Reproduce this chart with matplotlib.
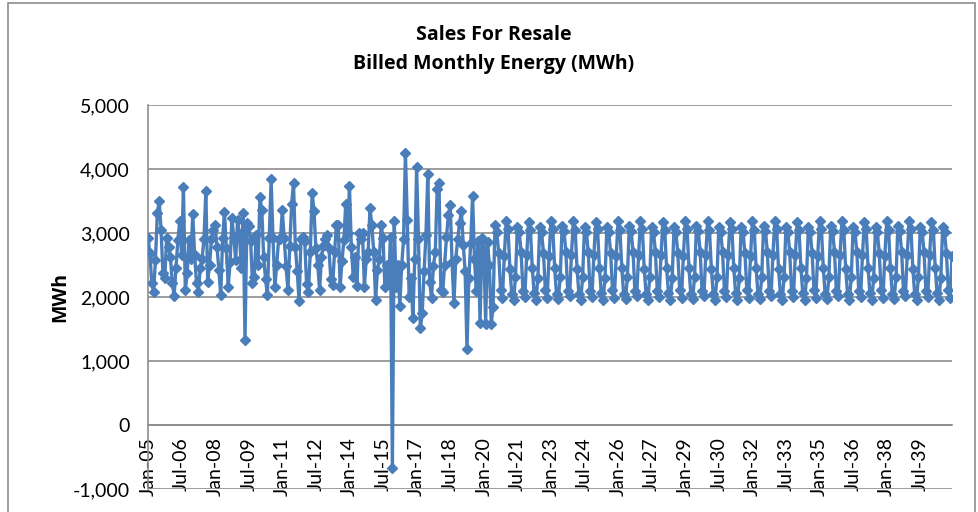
import numpy as np
import pandas as pd
import matplotlib
matplotlib.use("Agg")
import matplotlib.pyplot as plt
from matplotlib.patches import Rectangle

plt.rcParams['font.family'] = ['Lato', 'DejaVu Sans']

# billed monthly energy, MWh (actuals Jan-05 .. Jun-20)
hist_mwh = [
    2920, 2690, 2220, 2080, 2580, 3310, 3500, 3050, 2370, 2300, 2920, 2780,  # 2005
    2630, 2220, 2020, 2450, 2890, 3180, 2650, 3720, 2110, 2370, 2890, 2600,  # 2006
    3300, 2650, 2220, 2080, 2450, 2600, 2900, 3650, 2240, 2500, 2900, 3050,  # 2007
    3120, 2780, 2420, 2030, 2920, 3330, 2760, 2160, 2540, 3230, 2930, 2580,  # 2008
    3200, 2990, 2450, 3310, 1330, 3150, 3110, 2880, 2220, 2320, 2970, 2500,  # 2009
    3570, 3360, 2630, 2280, 2030, 2920, 3840, 2920, 2160, 2500, 2900, 2900,  # 2010
    3360, 2920, 2480, 2110, 2800, 3460, 3780, 2780, 2400, 1930, 2900, 2940,  # 2011
    2880, 2210, 2080, 2700, 3630, 3340, 2760, 2500, 2110, 2630, 2800, 2900,  # 2012
    2970, 2760, 2280, 2190, 2700, 3120, 3120, 2160, 2560, 2890, 3460, 3000,  # 2013
    3730, 2780, 2320, 2630, 2170, 3000, 2900, 3000, 2160, 2600, 2700, 3390,  # 2014
    3120, 2710, 1950, 2420, 2600, 3120, 2920, 2160, 2500, 2200, 2940, -670,  # 2015
    3180, 2160, 2500, 1860, 2500, 2900, 4255, 3200, 2000, 2300, 1670, 2600,  # 2016
    4025, 2900, 1510, 1745, 2400, 2970, 3920, 2240, 1980, 2480, 2700, 3680,  # 2017
    3780, 2110, 2080, 2500, 2930, 3280, 3440, 2540, 1900, 2600, 2900, 3150,  # 2018
    3340, 2820, 2400, 1190, 2300, 2850, 3580, 2600, 2100, 2870, 1600, 2920,  # 2019
    2740, 1580, 2860, 2500, 1580, 1850,                                      # 2020 H1
]

# forecast Jul-20 .. Dec-40
forecast_mwh = [
    3130, 3010, 2690, 2110, 1990, 2640,                                      # 2020 H2
    3180, 3060, 2440, 2050, 1960, 2310, 3100, 3020, 2700, 2100, 2000, 2650,  # 2021
    3170, 3040, 2460, 2060, 1950, 2300, 3090, 3010, 2690, 2110, 1990, 2640,  # 2022
    3190, 3070, 2450, 2040, 1970, 2320, 3110, 3030, 2710, 2090, 2010, 2660,  # 2023
    3180, 3050, 2440, 2050, 1960, 2310, 3100, 3020, 2700, 2100, 2000, 2650,  # 2024
    3170, 3060, 2460, 2060, 1950, 2300, 3090, 3010, 2690, 2110, 1990, 2640,  # 2025
    3190, 3040, 2450, 2040, 1970, 2320, 3110, 3030, 2710, 2090, 2010, 2660,  # 2026
    3180, 3070, 2440, 2050, 1960, 2310, 3100, 3020, 2700, 2100, 2000, 2650,  # 2027
    3170, 3050, 2460, 2060, 1950, 2300, 3090, 3010, 2690, 2110, 1990, 2640,  # 2028
    3190, 3060, 2450, 2040, 1970, 2320, 3110, 3030, 2710, 2090, 2010, 2660,  # 2029
    3180, 3040, 2440, 2050, 1960, 2310, 3100, 3020, 2700, 2100, 2000, 2650,  # 2030
    3170, 3070, 2460, 2060, 1950, 2300, 3090, 3010, 2690, 2110, 1990, 2640,  # 2031
    3190, 3050, 2450, 2040, 1970, 2320, 3110, 3030, 2710, 2090, 2010, 2660,  # 2032
    3180, 3060, 2440, 2050, 1960, 2310, 3100, 3020, 2700, 2100, 2000, 2650,  # 2033
    3170, 3040, 2460, 2060, 1950, 2300, 3090, 3010, 2690, 2110, 1990, 2640,  # 2034
    3190, 3070, 2450, 2040, 1970, 2320, 3110, 3030, 2710, 2090, 2010, 2660,  # 2035
    3180, 3050, 2440, 2050, 1960, 2310, 3100, 3020, 2700, 2100, 2000, 2650,  # 2036
    3170, 3060, 2460, 2060, 1950, 2300, 3090, 3010, 2690, 2110, 1990, 2640,  # 2037
    3190, 3040, 2450, 2040, 1970, 2320, 3110, 3030, 2710, 2090, 2010, 2660,  # 2038
    3180, 3070, 2440, 2050, 1960, 2310, 3100, 3020, 2700, 2100, 2000, 2650,  # 2039
    3170, 3050, 2460, 2060, 1950, 2300, 3090, 3010, 2690, 2110, 1990, 2640,  # 2040
]

start_month = "2005-01"
tick_every = 18
y_ticks = [-1000, 0, 1000, 2000, 3000, 4000, 5000]

values = hist_mwh + forecast_mwh
months = pd.date_range(start_month, periods=len(values), freq="MS")
x = np.arange(len(values))

fig = plt.figure(figsize=(9.79, 5.12), dpi=100)
ax = fig.add_axes([148 / 979, 1 - 489 / 512, (952 - 148) / 979, (489 - 105) / 512])

# outer chart frame
fig.patches.append(Rectangle((8 / 979, -0.1), 967 / 979, 1.1 - 3 / 512,
                             transform=fig.transFigure, fill=False,
                             edgecolor="#8c8c8c", linewidth=1.2))

ax.plot(x, values, color="#4a7ebb", linewidth=2.4, marker="D",
        markersize=5, markeredgecolor="#4a7ebb", zorder=3)

# spine position first: moving it resets the tick labels
for s in ["top", "right"]:
    ax.spines[s].set_visible(False)
ax.spines["bottom"].set_position(("data", 0))
ax.spines["bottom"].set_color("#8c8c8c")
ax.spines["bottom"].set_linewidth(1.2)
ax.spines["left"].set_color("#8c8c8c")
ax.spines["left"].set_linewidth(1.2)

ax.set_xlim(0, len(values) - 1)
ax.set_ylim(-1000, 5000)
ax.set_yticks(y_ticks)
ax.set_yticklabels([f"{v:,}" for v in y_ticks])
ax.yaxis.grid(True, color="#8c8c8c", linewidth=1.2)
ax.set_axisbelow(True)

tick_pos = x[::tick_every]
ax.set_xticks(tick_pos)
ax.set_xticklabels([m.strftime("%b-%y") for m in months[::tick_every]])

ax.tick_params(axis="both", length=0, labelsize=14)
ax.tick_params(axis="x", pad=9, labelrotation=90)
ax.tick_params(axis="y", pad=13)
for lbl in ax.get_xticklabels():
    lbl.set_verticalalignment("top")

ax.set_ylabel("MWh", fontsize=14, fontweight="bold", family="Open Sans",
              labelpad=2)

fig.text(494 / 979, 1 - 35 / 512, "Sales For Resale", ha="center", va="center",
         fontsize=14, fontweight="bold", family="Open Sans")
fig.text(494 / 979, 1 - 64 / 512, "Billed Monthly Energy (MWh)", ha="center",
         va="center", fontsize=14, fontweight="bold", family="Open Sans")

fig.savefig("out.png", dpi=100)
